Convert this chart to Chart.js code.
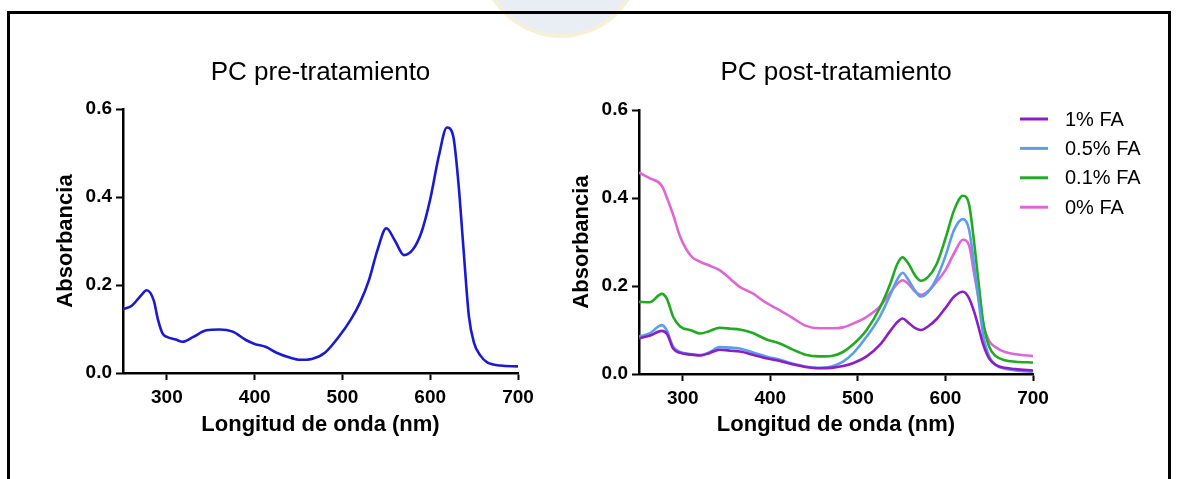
<!DOCTYPE html>
<html>
<head>
<meta charset="utf-8">
<script src="https://cdn.jsdelivr.net/npm/chart.js@4.4.0/dist/chart.umd.min.js"></script>
<style>
  html, body { margin:0; padding:0; background:#fff; }
  #page { position:relative; width:1178px; height:479px; overflow:hidden; background:#fff; }
  #seal { position:absolute; left:484px; top:-120px; width:154px; height:154px; border-radius:50%;
          background:#e6ebf3; box-shadow:0 0 0 4px #f7eed0; opacity:.85; }
  #frame { position:absolute; left:7px; top:11px; width:1164px; height:600px;
           border:3px solid #000; box-sizing:border-box; }
  canvas { position:absolute; top:0; }
  #pre { left:0; }
  #post { left:560px; }
</style>
</head>
<body>
<div id="page">
  <div id="seal"></div>
  <div id="frame"></div>
  <canvas id="pre" width="560" height="479"></canvas>
  <canvas id="post" width="618" height="479"></canvas>
</div>
<script>
const FONT = '"Liberation Sans", Arial, Helvetica, sans-serif';
Chart.defaults.font.family = FONT;
Chart.defaults.color = "#000";

const X_TITLE = "Longitud de onda (nm)";
const Y_TITLE = "Absorbancia";
const X_TICKS = [300, 400, 500, 600, 700];
const Y_TICKS = [0, 0.2, 0.4, 0.6];

// left panel: single spectrum before treatment
const PRE_NM  = [250,260,270,277,285,290,295,300,310,318,330,345,360,375,390,400,413,425,440,452,465,480,495,510,520,530,540,550,560,570,580,590,600,610,619,626,632,638,644,650,657,665,680,700];
const PRE_ABS = [0.145,0.153,0.175,0.188,0.165,0.120,0.090,0.082,0.076,0.071,0.082,0.097,0.099,0.094,0.075,0.066,0.059,0.046,0.035,0.030,0.032,0.046,0.080,0.123,0.160,0.210,0.280,0.329,0.300,0.268,0.280,0.320,0.395,0.495,0.558,0.540,0.435,0.280,0.130,0.068,0.040,0.024,0.017,0.015];

// right panel: spectra after treatment
const POST_NM = [250,262,276,282,289,297,310,320,331,342,355,365,380,395,410,425,440,456,470,483,495,510,525,537,545,551,558,565,572,580,590,600,610,620,627,633,638,643,650,658,668,680,700];
const FA_1   = [0.081,0.087,0.098,0.091,0.058,0.048,0.044,0.042,0.048,0.055,0.053,0.051,0.044,0.036,0.030,0.022,0.016,0.013,0.014,0.018,0.025,0.040,0.066,0.098,0.118,0.126,0.116,0.105,0.100,0.108,0.125,0.150,0.176,0.187,0.172,0.140,0.105,0.068,0.035,0.020,0.014,0.011,0.008];
const FA_05  = [0.085,0.092,0.111,0.098,0.062,0.050,0.045,0.043,0.050,0.061,0.060,0.058,0.049,0.040,0.033,0.024,0.017,0.014,0.017,0.028,0.048,0.085,0.130,0.180,0.215,0.230,0.213,0.190,0.176,0.186,0.218,0.268,0.328,0.352,0.328,0.245,0.165,0.090,0.040,0.020,0.012,0.008,0.005];
const FA_01  = [0.164,0.163,0.182,0.170,0.130,0.108,0.099,0.092,0.098,0.105,0.103,0.101,0.093,0.079,0.070,0.056,0.044,0.040,0.041,0.050,0.068,0.100,0.150,0.205,0.250,0.265,0.250,0.225,0.212,0.220,0.250,0.308,0.373,0.405,0.385,0.295,0.205,0.120,0.062,0.040,0.031,0.028,0.026];
const FA_0   = [0.458,0.445,0.428,0.400,0.362,0.312,0.267,0.255,0.246,0.236,0.215,0.198,0.183,0.162,0.146,0.128,0.110,0.104,0.104,0.106,0.115,0.130,0.153,0.185,0.205,0.213,0.204,0.188,0.180,0.188,0.210,0.236,0.275,0.305,0.292,0.225,0.170,0.113,0.075,0.060,0.050,0.045,0.041];

const SERIES_LABELS = ["1% FA", "0.5% FA", "0.1% FA", "0% FA"];
const SERIES_COLORS = ["#8c1ec8", "#5b9ee8", "#22aa22", "#e066d6"];

const pairs = (xs, ys) => xs.map((x, i) => ({ x, y: ys[i] }));

function line(label, xs, ys, color){
  return {
    label,
    data: pairs(xs, ys),
    borderColor: color,
    backgroundColor: color,
    borderWidth: 2.6,
    pointRadius: 0,
    cubicInterpolationMode: "monotone",
    fill: false
  };
}

function axes(yAxisWidth, xAxisHeight, yTitlePad){
  const tickFont = { size: 19, weight: "bold" };
  const titleFont = { size: 22, weight: "bold", lineHeight: 1 };
  const grid = { drawOnChartArea: false, drawTicks: true, tickLength: 7, tickWidth: 2, tickColor: "#000" };
  return {
    x: {
      type: "linear", min: 250, max: 700,
      ticks: { color: "#000", font: tickFont, padding: 6, maxRotation: 0, autoSkip: false },
      afterBuildTicks: (s) => { s.ticks = X_TICKS.map(v => ({ value: v })); },
      afterFit: (s) => { s.height = xAxisHeight; },
      grid, border: { color: "#000", width: 2.5 },
      title: { display: true, text: X_TITLE, color: "#000", font: titleFont, padding: { top: 0, bottom: 43 } }
    },
    y: {
      min: 0, max: 0.6,
      ticks: { color: "#000", font: tickFont, padding: 4, autoSkip: false, callback: (v) => v.toFixed(1) },
      afterBuildTicks: (s) => { s.ticks = Y_TICKS.map(v => ({ value: v })); },
      afterFit: (s) => { s.width = yAxisWidth; },
      grid, border: { color: "#000", width: 2.5 },
      title: { display: true, text: Y_TITLE, color: "#000", font: titleFont, padding: { top: yTitlePad, bottom: 0 } }
    }
  };
}

function panelTitle(text, padBottom){
  return {
    display: true, text, fullSize: false, color: "#000",
    font: { size: 26, weight: "normal", lineHeight: 1 },
    padding: { top: 60, bottom: padBottom }
  };
}

// legend drawn to the right of the plot, like the original figure
const sideLegend = {
  id: "sideLegend",
  afterDraw(chart){
    const { ctx, chartArea } = chart;
    ctx.save();
    ctx.font = `20px ${FONT}`;
    ctx.textBaseline = "middle";
    chart.data.datasets.forEach((ds, i) => {
      const y = 119 + i * 29.4;
      ctx.strokeStyle = ds.borderColor;
      ctx.lineWidth = 3;
      ctx.beginPath();
      ctx.moveTo(chartArea.right - 13, y);
      ctx.lineTo(chartArea.right + 15, y);
      ctx.stroke();
      ctx.fillStyle = "#000";
      ctx.fillText(ds.label, chartArea.right + 32, y + 1);
    });
    ctx.restore();
  }
};

new Chart(document.getElementById("pre"), {
  type: "line",
  data: { datasets: [ line("PC", PRE_NM, PRE_ABS, "#1a1ad2") ] },
  options: {
    responsive: false, animation: false, devicePixelRatio: 1,
    layout: { padding: { left: 0, right: 42, top: 0, bottom: 0 } },
    plugins: { legend: { display: false }, tooltip: { enabled: false }, title: panelTitle("PC pre-tratamiento", 23) },
    scales: axes(123, 106, 55)
  }
});

new Chart(document.getElementById("post"), {
  type: "line",
  data: {
    datasets: [
      line(SERIES_LABELS[0], POST_NM, FA_1,  SERIES_COLORS[0]),
      line(SERIES_LABELS[1], POST_NM, FA_05, SERIES_COLORS[1]),
      line(SERIES_LABELS[2], POST_NM, FA_01, SERIES_COLORS[2]),
      line(SERIES_LABELS[3], POST_NM, FA_0,  SERIES_COLORS[3])
    ]
  },
  options: {
    responsive: false, animation: false, devicePixelRatio: 1,
    layout: { padding: { left: 0, right: 145, top: 0, bottom: 0 } },
    plugins: { legend: { display: false }, tooltip: { enabled: false }, title: panelTitle("PC post-tratamiento", 24) },
    scales: axes(79, 105, 11)
  },
  plugins: [sideLegend]
});
</script>
</body>
</html>
